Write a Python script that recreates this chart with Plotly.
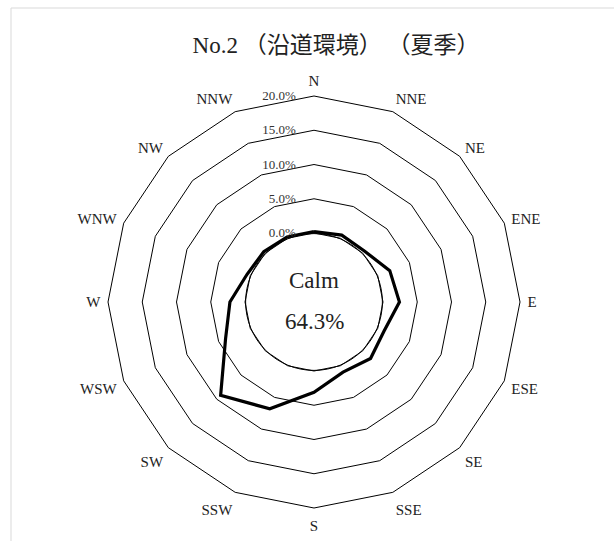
import plotly.graph_objects as go

directions = ["N", "NNE", "NE", "ENE", "E", "ESE", "SE", "SSE",
              "S", "SSW", "SW", "WSW", "W", "WNW", "NW", "NNW"]
frequency = [0.2, 0.5, 0.4, 1.9, 2.4, 1.0, 1.6, 1.0,
             3.1, 6.8, 9.2, 3.9, 2.2, 0.5, 0.3, 0.2]
radial_ticks = [0, 5, 10, 15, 20]
radial_tick_labels = ["0.0%", "5.0%", "10.0%", "15.0%", "20.0%"]
calm_label = "Calm"
calm_value = "64.3%"
title_text = "No.2 （沿道環境） （夏季）"

W, H = 614, 541
cx, cy, R = 314, 302, 206          # polar centre / outer radius in px
hole_px = 69
circle_px = 68.4
serif = "Liberation Serif, Noto Sans CJK JP, serif"

fig = go.Figure()
fig.add_trace(go.Scatterpolar(
    r=frequency + frequency[:1],
    theta=directions + directions[:1],
    mode="lines",
    line=dict(color="black", width=3.2),
    hoverinfo="skip",
    showlegend=False,
))

fig.update_layout(
    width=W, height=H,
    margin=dict(l=0, r=0, t=0, b=0),
    paper_bgcolor="white",
    showlegend=False,
    polar=dict(
        domain=dict(x=[(cx - R) / W, (cx + R) / W],
                    y=[(H - cy - R) / H, (H - cy + R) / H]),
        gridshape="linear",
        hole=hole_px / R,
        bgcolor="white",
        angularaxis=dict(
            type="category",
            categoryarray=directions,
            direction="clockwise",
            rotation=90,
            showgrid=False,
            showline=True,
            linecolor="black",
            linewidth=1,
            ticks="outside",
            ticklen=4,
            tickcolor="rgba(0,0,0,0)",
            tickfont=dict(family=serif, size=15, color="#222"),
        ),
        radialaxis=dict(
            range=[0, 20],
            tickvals=radial_ticks,
            ticktext=radial_tick_labels,
            angle=90,
            side="counterclockwise",
            showline=False,
            showgrid=True,
            gridcolor="black",
            gridwidth=1,
            ticks="outside",
            ticklen=13,
            tickcolor="rgba(0,0,0,0)",
            tickangle=90,
            tickfont=dict(family=serif, size=13, color="#333"),
        ),
    ),
    title=dict(
        text=title_text,
        x=336 / W, xanchor="center",
        y=1 - 45 / H, yanchor="middle",
        font=dict(family=serif, size=23, color="#222"),
    ),
    shapes=[
        dict(type="circle", xref="paper", yref="paper",
             x0=(cx - circle_px) / W, x1=(cx + circle_px) / W,
             y0=(H - cy - circle_px) / H, y1=(H - cy + circle_px) / H,
             line=dict(color="black", width=1), layer="above"),
        dict(type="rect", xref="paper", yref="paper",
             x0=11 / W, x1=1.02, y0=-0.02, y1=1 - 8 / H,
             line=dict(color="#d9d9d9", width=1)),
    ],
    annotations=[
        dict(text=calm_label, xref="paper", yref="paper",
             x=cx / W, y=1 - 280 / H, showarrow=False,
             font=dict(family=serif, size=23, color="#222")),
        dict(text=calm_value, xref="paper", yref="paper",
             x=cx / W, y=1 - 321 / H, showarrow=False,
             font=dict(family=serif, size=23, color="#222")),
    ],
)

fig.write_html("out.html", config={"displayModeBar": False},
               post_script="document.body.style.margin='0';")
